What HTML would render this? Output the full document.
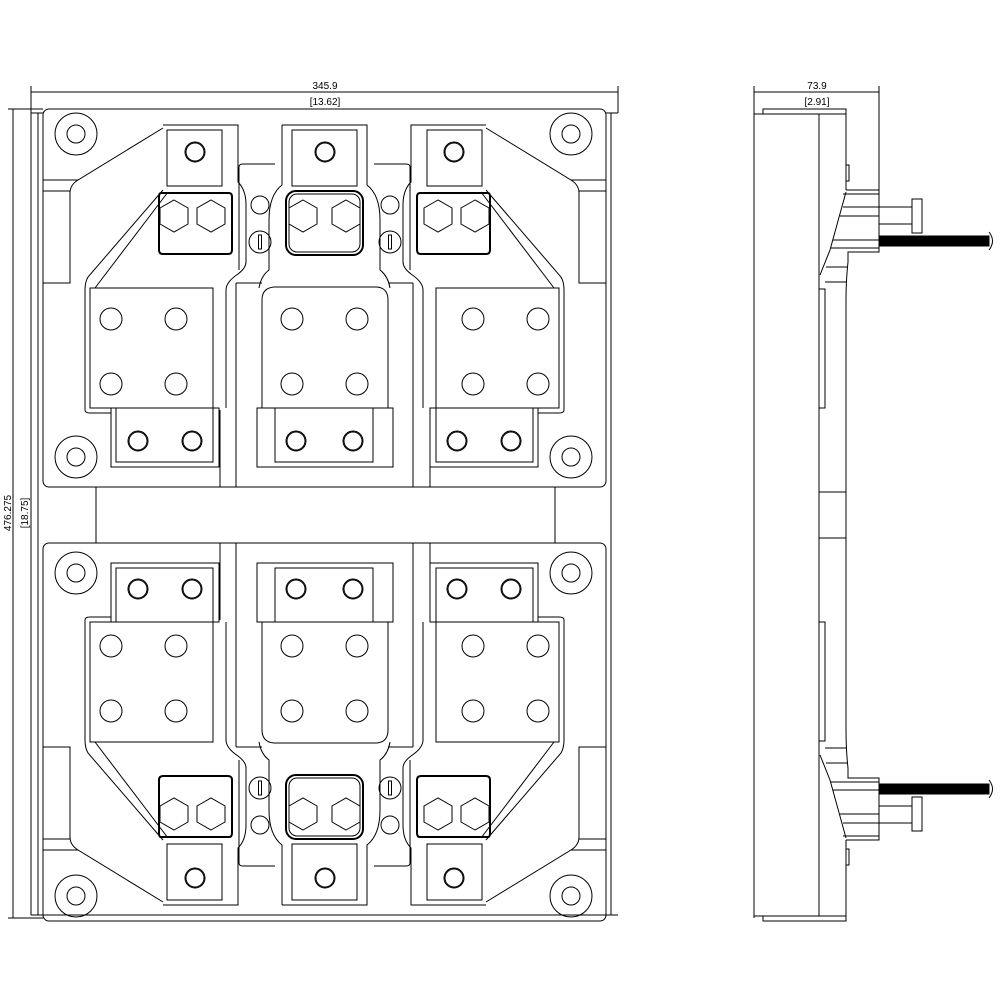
<!DOCTYPE html>
<html><head><meta charset="utf-8"><style>html,body{margin:0;background:#fff}svg{display:block}</style></head>
<body>
<svg width="1000" height="1000" viewBox="0 0 1000 1000" xmlns="http://www.w3.org/2000/svg" fill="none" stroke="#000" stroke-width="1">
<defs>
<g id="term">
  <!-- top tab -->
  <path d="M163,125 H238 V182 Q246,190 246,205 V262 Q246,268 238,274 Q226,282 226,290 V408"/>
  <rect x="167" y="130" width="55" height="56"/>
  <circle cx="195" cy="152" r="10"/><circle cx="195" cy="152" r="9"/>
  <!-- nut block -->
  <path d="M161,193 H229 Q232,193 232,197 V250 Q232,254 228,254 H163 Q159,254 159,250 V197 Q159,193 161,193 Z" stroke-width="2"/>
  <polygon points="174,200 188,208 188,224 174,232 160,224 160,208"/>
  <polygon points="211,200 225,208 225,224 211,232 197,224 197,208"/>
  <!-- big block -->
  <rect x="90" y="288" width="123" height="120"/>
  <circle cx="111" cy="319" r="11"/><circle cx="176" cy="319" r="11"/>
  <circle cx="111" cy="384" r="11"/><circle cx="176" cy="384" r="11"/>
  <!-- lower block -->
  <rect x="116" y="408" width="97" height="54"/>
  <rect x="111" y="408" width="108" height="59"/>
  <circle cx="138" cy="441" r="10"/><circle cx="192" cy="441" r="10"/>
  <circle cx="138" cy="441" r="9"/><circle cx="192" cy="441" r="9"/>
</g>
<g id="half">
  <rect x="43" y="109" width="563" height="378" rx="6"/>
  <circle cx="76" cy="134" r="21"/><circle cx="76" cy="134" r="9"/>
  <circle cx="76" cy="457" r="21"/><circle cx="76" cy="457" r="9"/>
  <circle cx="571" cy="134" r="21"/><circle cx="571" cy="134" r="9"/>
  <circle cx="571" cy="457" r="21"/><circle cx="571" cy="457" r="9"/>
  <!-- chamfered pocket outline -->
  <path d="M43,180 H78 L163,128"/>
  <path d="M43,191 H70 V283 H43"/>
  <path d="M606,180 H571 L486,128"/>
  <path d="M606,191 H579 V283 H606"/>
  <path d="M78,180 Q70,185 70,193"/>
  <path d="M571,180 Q579,185 579,193"/>
  <path d="M163,190 L88,277 Q85,282 85,290 V410 Q85,413 90,413 H111"/>
  <path d="M486,190 L561,277 Q564,282 564,290 V410 Q564,413 559,413 H538"/>
  <path d="M168,192 L95,288"/>
  <path d="M481,192 L554,288"/>
  <use href="#term"/>
  <use href="#term" transform="translate(649,0) scale(-1,1)"/>
  <!-- centre terminal -->
  <path d="M282,125 H367 V185 Q380,195 380,220 V270 Q388,276 390,288"/>
  <path d="M282,125 V185 Q269,195 269,220 V270 Q261,276 259,288"/>
  <rect x="292" y="130" width="65" height="56"/>
  <circle cx="325" cy="152" r="10"/><circle cx="325" cy="152" r="9"/>
  <rect x="286" y="191" width="77" height="64" rx="10" stroke-width="2"/>
  <rect x="289" y="194" width="71" height="58" rx="8"/>
  <polygon points="303,200 317,208 317,224 303,232 289,224 289,208"/>
  <polygon points="346,200 360,208 360,224 346,232 332,224 332,208"/>
  <path d="M262,300 Q262,288 274,287 H377 Q388,288 388,300 V408 H262 Z"/>
  <circle cx="292" cy="319" r="11"/><circle cx="357" cy="319" r="11"/>
  <circle cx="292" cy="384" r="11"/><circle cx="357" cy="384" r="11"/>
  <rect x="275" y="408" width="98" height="54"/>
  <rect x="257" y="408" width="136" height="59"/>
  <circle cx="296" cy="441" r="10"/><circle cx="353" cy="441" r="10"/>
  <circle cx="296" cy="441" r="9"/><circle cx="353" cy="441" r="9"/>
  <!-- middle insulator plates -->
  <path d="M239,270 V167 Q239,164 243,164 H275"/>
  <path d="M410,270 V167 Q410,164 406,164 H374"/>
  <path d="M236,283 H262 M388,283 H413"/>
  <path d="M220,410 V487 M236,283 V487 M413,283 V487 M430,410 V487"/>
  <circle cx="260" cy="205" r="9"/>
  <circle cx="260" cy="242" r="11"/><rect x="258.5" y="235" width="3" height="14"/>
  <circle cx="390" cy="205" r="9"/>
  <circle cx="390" cy="242" r="11"/><rect x="388.5" y="235" width="3" height="14"/>
</g>
<g id="side">
  <rect x="763" y="109" width="83" height="5"/>
  <path d="M754,114 H846 V190"/>
  <path d="M819,114 V492"/>
  <rect x="846" y="165" width="3" height="16"/>
  <path d="M846,190 H879 V252 H848 V262 Q846,280 846,300 V492"/>
  <path d="M846,192 L830,250 Q822,270 820,275"/>
  <path d="M843,194 H879 M843,207 H879 M840,216 H879 M833,240 H879 M831,248 H879 M826,267 H848 M825,282 H846"/>
  <rect x="819" y="289" width="6" height="119"/>
  <path d="M879,207 H912 M879,224 H912"/>
  <rect x="912" y="199" width="10" height="34"/>
  <rect x="879" y="236" width="110" height="10" fill="#000"/>
  <path d="M989,232 Q996,241 989,250"/>
  <path d="M846,492 H819"/>
</g>
</defs>
<!-- dims -->
<path d="M31,92 H618 M31,86 V915 M618,86 V113"/>
<text x="325" y="89" font-family="Liberation Sans,sans-serif" font-size="10" fill="#000" stroke="none" text-anchor="middle">345.9</text>
<text x="325" y="105" font-family="Liberation Sans,sans-serif" font-size="10" fill="#000" stroke="none" text-anchor="middle">[13.62]</text>
<path d="M13,109 V918 M8,109 H43 M8,918 H43"/>
<text transform="translate(11,513) rotate(-90)" font-family="Liberation Sans,sans-serif" font-size="10" fill="#000" stroke="none" text-anchor="middle">476.275</text>
<text transform="translate(28,513) rotate(-90)" font-family="Liberation Sans,sans-serif" font-size="10" fill="#000" stroke="none" text-anchor="middle">[18.75]</text>
<!-- outer frame -->
<path d="M31,113 H43 M606,113 H618 M38,113 V915 M611,113 V915 M31,915 H618"/>
<use href="#half"/>
<use href="#half" transform="translate(0,1030) scale(1,-1)"/>
<rect x="96" y="487" width="459" height="56"/>
<!-- side view -->
<path d="M754,92 H879 M754,86 V918 M879,86 V190"/>
<text x="817" y="89" font-family="Liberation Sans,sans-serif" font-size="10" fill="#000" stroke="none" text-anchor="middle">73.9</text>
<text x="817" y="105" font-family="Liberation Sans,sans-serif" font-size="10" fill="#000" stroke="none" text-anchor="middle">[2.91]</text>
<use href="#side"/>
<use href="#side" transform="translate(0,1030) scale(1,-1)"/>
<path d="M819,492 V538 M846,492 V538"/>
</svg>
</body></html>
